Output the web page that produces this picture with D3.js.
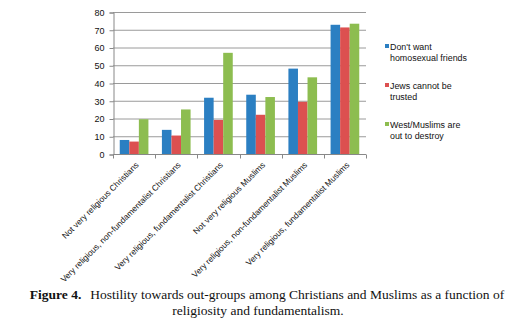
<!DOCTYPE html>
<html><head><meta charset="utf-8">
<script src="https://cdn.jsdelivr.net/npm/d3@7"></script>
<style>body{margin:0;background:#fff}svg{display:block}</style>
</head><body>
<svg id="c" width="526" height="331"></svg>
<script>
const categories = ["Not very religious Christians","Very religious, non-fundamentalist Christians","Very religious, fundamentalist Christians","Not very religious Muslims","Very religious, non-fundamentalist Muslims","Very religious, fundamentalist Muslims"];
const seriesNames = [["Don't want","homosexual friends"],["Jews cannot be","trusted"],["West/Muslims are","out to destroy"]];
const homosexual = [7.9, 13.6, 31.7, 33.4, 48.1, 72.8];
const jews = [7.0, 10.4, 19.2, 22.1, 29.4, 71.3];
const westMuslims = [19.6, 25.1, 57.0, 32.1, 43.2, 73.4];
const yTicks = [0,10,20,30,40,50,60,70,80];
const colors = ["#2b7fc2","#dc5050","#8dbd50"];
const series = [homosexual, jews, westMuslims];

const svg = d3.select("#c");
const L = 113, R = 366, T = 12, B = 154;
const x = d3.scaleBand().domain(categories).range([L, R]).paddingInner(0.32).paddingOuter(0.16);
const xOuter = d3.scaleBand().domain(categories).range([L, R]);
const xs = d3.scaleBand().domain([0,1,2]).range([0, x.bandwidth()]);
const y = d3.scaleLinear().domain([0,80]).range([B, T]);

// gridlines
svg.append("g").selectAll("line").data(yTicks.filter(d=>d>0)).join("line")
  .attr("x1", L).attr("x2", R).attr("y1", d=>y(d)+0.5).attr("y2", d=>y(d)+0.5)
  .attr("stroke", "#9a9a9a").attr("stroke-width", 1);

// y axis
const yAxis = d3.axisLeft(y).tickValues(yTicks).tickSize(4).tickPadding(5);
const gy = svg.append("g").attr("transform", `translate(${L+0.5},0.5)`).call(yAxis);
gy.select(".domain").attr("stroke", "#888");
gy.selectAll(".tick line").attr("stroke", "#888");
gy.selectAll("text").attr("font-family", "Liberation Sans, Arial, sans-serif").attr("font-size", 9).attr("fill", "#111");

// bars
series.forEach((s, i) => {
  svg.append("g").selectAll("rect").data(s).join("rect")
    .attr("x", (d, j) => x(categories[j]) + xs(i))
    .attr("width", xs.bandwidth())
    .attr("y", d => y(d))
    .attr("height", d => B - y(d))
    .attr("fill", colors[i]);
});

// x axis
const gx = svg.append("g").attr("transform", `translate(0,${B+0.5})`);
gx.append("line").attr("x1", L).attr("x2", R).attr("stroke", "#888");
gx.selectAll("line.t").data(d3.range(categories.length+1)).join("line").attr("class","t")
  .attr("x1", i => Math.round(L + i*xOuter.step())+0.5).attr("x2", i => Math.round(L + i*xOuter.step())+0.5)
  .attr("y1", 0).attr("y2", 4).attr("stroke", "#888");
gx.selectAll("text").data(categories).join("text")
  .attr("transform", d => `translate(${xOuter(d)+xOuter.bandwidth()/2+3},9) rotate(-45)`)
  .attr("text-anchor", "end").attr("dy", "0.35em")
  .attr("font-family", "Liberation Sans, Arial, sans-serif").attr("font-size", 8.4).attr("fill", "#111")
  .text(d => d);

// legend
const lg = svg.append("g");
const legendY = [50, 89, 128];
seriesNames.forEach((n, i) => {
  lg.append("rect").attr("x", 385).attr("y", legendY[i]-6).attr("width", 4).attr("height", 4).attr("fill", colors[i]);
  n.forEach((t, k) => {
    lg.append("text").attr("x", 390).attr("y", legendY[i] + k*11)
      .attr("font-family", "Liberation Sans, Arial, sans-serif").attr("font-size", 8.9).attr("fill", "#111").text(t);
  });
});

// caption
const cap = svg.append("text").attr("x", 267).attr("y", 299).attr("text-anchor", "middle")
  .attr("font-family", "Liberation Serif, Times New Roman, serif").attr("font-size", 13.5).attr("fill", "#111");
cap.append("tspan").attr("font-weight", "bold").text("Figure 4.");
cap.append("tspan").attr("dx", 9).text("Hostility towards out-groups among Christians and Muslims as a function of");
svg.append("text").attr("x", 258).attr("y", 315).attr("text-anchor", "middle")
  .attr("font-family", "Liberation Serif, Times New Roman, serif").attr("font-size", 13.5).attr("fill", "#111")
  .text("religiosity and fundamentalism.");
</script>
</body></html>
